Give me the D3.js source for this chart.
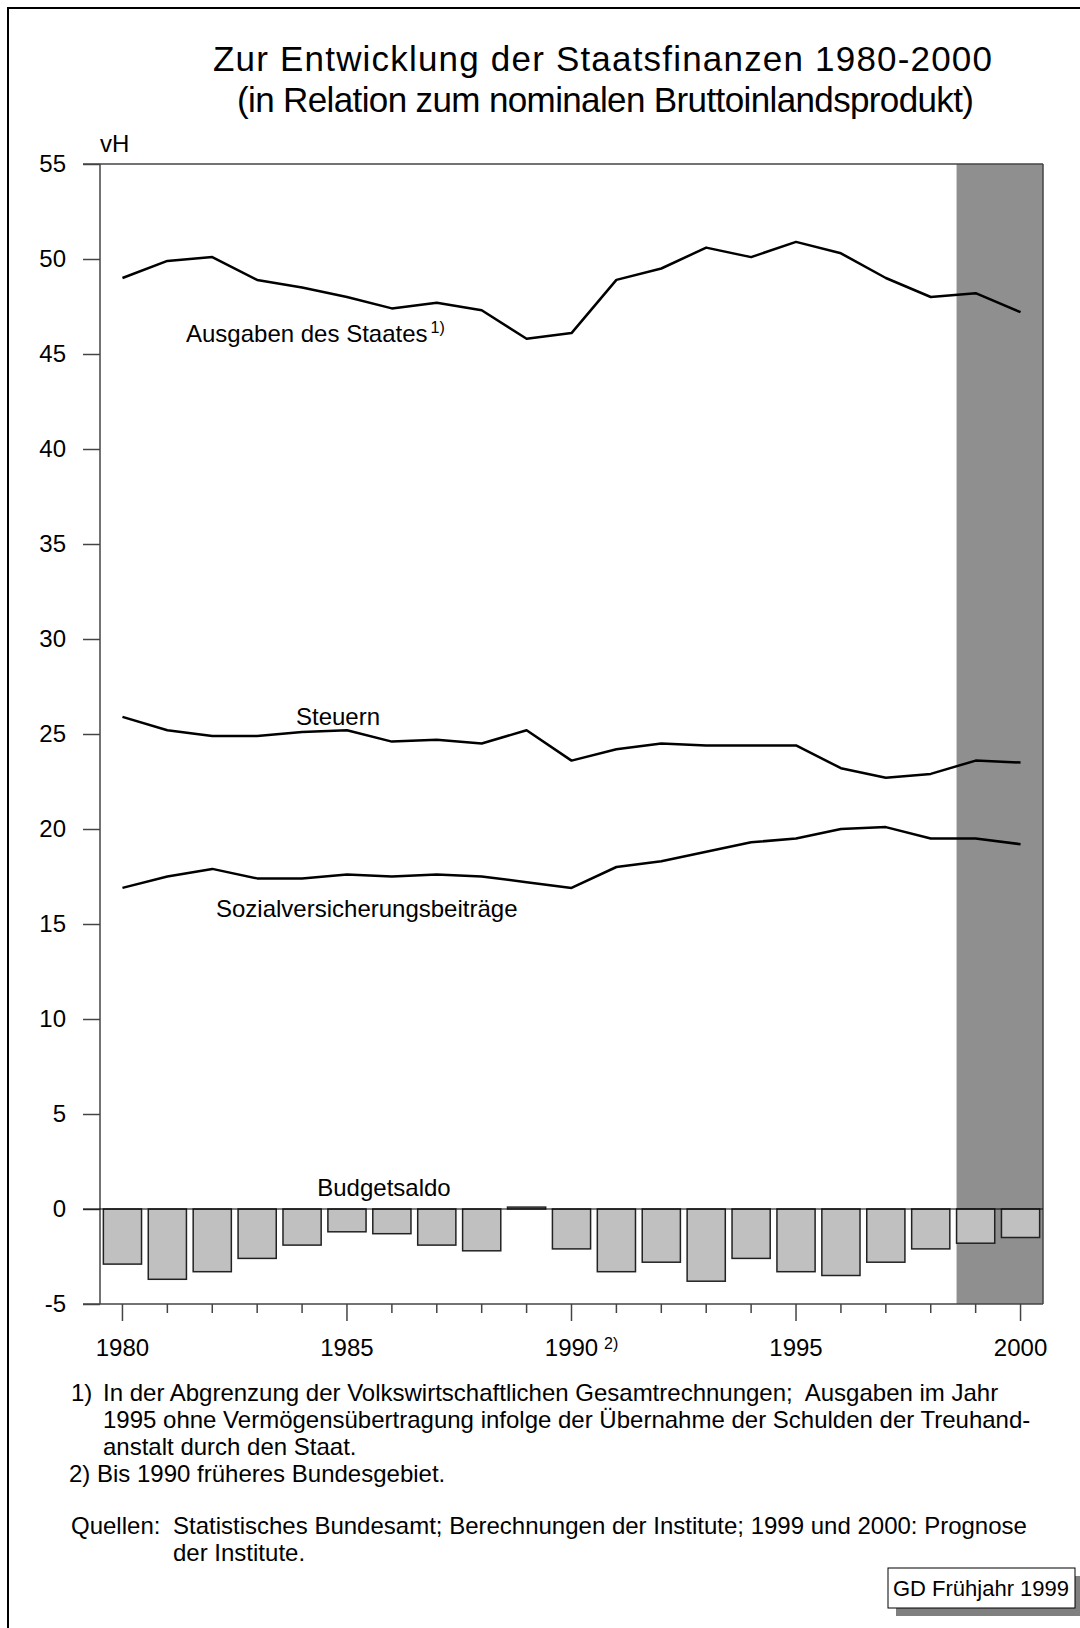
<!DOCTYPE html>
<html>
<head>
<meta charset="utf-8">
<script src="https://cdn.jsdelivr.net/npm/d3@7"></script>
<style>
  body { margin: 0; background: #fff; }
  text { font-family: "Liberation Sans", Arial, sans-serif; fill: #000; }
</style>
</head>
<body>
<div id="chart"></div>
<script>
    // Data
    const years = d3.range(1980, 2001);
    const ausgaben = [49.0, 49.9, 50.1, 48.9, 48.5, 48.0, 47.4, 47.7, 47.3, 45.8, 46.1,
      48.9, 49.5, 50.6, 50.1, 50.9, 50.3, 49.0, 48.0, 48.2, 47.2];
    const steuern = [25.9, 25.2, 24.9, 24.9, 25.1, 25.2, 24.6, 24.7, 24.5, 25.2, 23.6,
      24.2, 24.5, 24.4, 24.4, 24.4, 23.2, 22.7, 22.9, 23.6, 23.5];
    const sozial = [16.9, 17.5, 17.9, 17.4, 17.4, 17.6, 17.5, 17.6, 17.5, 17.2, 16.9,
      18.0, 18.3, 18.8, 19.3, 19.5, 20.0, 20.1, 19.5, 19.5, 19.2];
    const saldo = [-2.9, -3.7, -3.3, -2.6, -1.9, -1.2, -1.3, -1.9, -2.2, 0.1, -2.1,
      -3.3, -2.8, -3.8, -2.6, -3.3, -3.5, -2.8, -2.1, -1.8, -1.5];
    const yTicks = [-5, 0, 5, 10, 15, 20, 25, 30, 35, 40, 45, 50, 55];
    const xLabels = [1980, 1985, 1990, 1995, 2000];
    const prognoseStart = 1999;

    // The svg
    const width = 1080, height = 1628;
    const svg = d3.select("#chart").append("svg")
      .attr("width", width)
      .attr("height", height);

    svg.append("rect").attr("width", width).attr("height", height).attr("fill", "#fff");

    // page frame (top and left visible)
    svg.append("path")
      .attr("d", "M8,1628 V8 H1080")
      .attr("fill", "none")
      .attr("stroke", "#000")
      .attr("stroke-width", 2);

    // Title
    svg.append("text")
      .attr("x", 213).attr("y", 71)
      .attr("textLength", 779)
      .style("font-size", "35px")
      .text("Zur Entwicklung der Staatsfinanzen 1980-2000");
    svg.append("text")
      .attr("x", 237).attr("y", 112)
      .attr("textLength", 737)
      .style("font-size", "35px")
      .text("(in Relation zum nominalen Bruttoinlandsprodukt)");

    // Scales
    const plotLeft = 100, plotRight = 1043, plotTop = 164, plotBottom = 1304;
    const x = d3.scaleBand()
      .domain(years)
      .range([plotLeft, plotRight])
      .paddingInner(0.15)
      .paddingOuter(0.075);
    const cx = d => x(d) + x.bandwidth() / 2;
    const y = d3.scaleLinear().domain([-5, 55]).range([plotBottom, plotTop]);

    // Prognose shading
    svg.append("rect")
      .attr("x", x(prognoseStart))
      .attr("y", plotTop)
      .attr("width", plotRight - x(prognoseStart))
      .attr("height", plotBottom - plotTop)
      .attr("fill", "#8f8f8f");

    // Y axis
    const yAxis = svg.append("g")
      .attr("transform", `translate(${plotLeft},0)`)
      .call(d3.axisLeft(y).tickValues(yTicks).tickSize(17).tickPadding(17).tickFormat(d => d < 0 ? "-" + (-d) : d));
    yAxis.select(".domain").remove();
    yAxis.selectAll("line").attr("stroke", "#444").attr("stroke-width", 1.5);
    yAxis.selectAll("text")
      .style("font-size", "24px")
      .style("font-family", "'Liberation Sans', Arial, sans-serif");

    svg.append("text")
      .attr("x", 100).attr("y", 152)
      .style("font-size", "24px")
      .text("vH");

    // X axis ticks
    svg.append("g")
      .selectAll("line")
      .data(years)
      .join("line")
      .attr("x1", cx).attr("x2", cx)
      .attr("y1", plotBottom)
      .attr("y2", d => plotBottom + (d % 5 === 0 ? 17 : 9))
      .attr("stroke", "#444")
      .attr("stroke-width", 1.5);

    svg.append("g")
      .selectAll("text")
      .data(xLabels)
      .join("text")
      .attr("x", cx)
      .attr("y", 1356)
      .attr("text-anchor", "middle")
      .style("font-size", "24px")
      .text(d => d);

    svg.append("text")
      .attr("x", 604).attr("y", 1349)
      .style("font-size", "16px")
      .text("2)");

    // Bars (Budgetsaldo)
    svg.append("g")
      .selectAll("rect")
      .data(years)
      .join("rect")
      .attr("x", d => x(d))
      .attr("width", x.bandwidth())
      .attr("y", (d, i) => y(Math.max(0, saldo[i])))
      .attr("height", (d, i) => Math.abs(y(saldo[i]) - y(0)))
      .attr("fill", "#c0c0c0")
      .attr("stroke", "#222")
      .attr("stroke-width", 1.5);

    // Frame lines
    const frame = svg.append("g").attr("stroke", "#444").attr("stroke-width", 1.5);
    frame.append("line").attr("x1", 83).attr("x2", plotRight).attr("y1", plotTop).attr("y2", plotTop);
    frame.append("line").attr("x1", plotLeft).attr("x2", plotLeft).attr("y1", plotTop).attr("y2", plotBottom);
    frame.append("line").attr("x1", plotRight).attr("x2", plotRight).attr("y1", plotTop).attr("y2", plotBottom);
    frame.append("line").attr("x1", 83).attr("x2", plotRight).attr("y1", plotBottom).attr("y2", plotBottom);
    svg.append("line")
      .attr("x1", 83).attr("x2", plotRight)
      .attr("y1", y(0)).attr("y2", y(0))
      .attr("stroke", "#000").attr("stroke-width", 1.2);

    // Lines
    const line = d3.line().x(d => cx(d[0])).y(d => y(d[1]));
    [ausgaben, steuern, sozial].forEach(series => {
      svg.append("path")
        .datum(years.map((yr, i) => [yr, series[i]]))
        .attr("d", line)
        .attr("fill", "none")
        .attr("stroke", "#000")
        .attr("stroke-width", 2.5)
        .attr("stroke-linejoin", "round");
    });

    // Series labels
    const ausg = svg.append("text").attr("x", 186).attr("y", 342).style("font-size", "24px");
    ausg.append("tspan").text("Ausgaben des Staates");
    ausg.append("tspan").attr("dx", 3).attr("dy", -9).style("font-size", "16px").text("1)");
    svg.append("text").attr("x", 296).attr("y", 725).style("font-size", "24px").text("Steuern");
    svg.append("text").attr("x", 216).attr("y", 917).style("font-size", "24px").text("Sozialversicherungsbeiträge");
    svg.append("text").attr("x", 384).attr("y", 1196).attr("text-anchor", "middle")
      .style("font-size", "24px").text("Budgetsaldo");

    // Footnotes
    const notes = [
      [71, 1401, "1)"],
      [103, 1401, "In der Abgrenzung der Volkswirtschaftlichen Gesamtrechnungen;  Ausgaben im Jahr"],
      [103, 1428, "1995 ohne Vermögensübertragung infolge der Übernahme der Schulden der Treuhand-"],
      [103, 1455, "anstalt durch den Staat."],
      [69, 1482, "2) Bis 1990 früheres Bundesgebiet."],
      [71, 1534, "Quellen:"],
      [173, 1534, "Statistisches Bundesamt; Berechnungen der Institute; 1999 und 2000: Prognose"],
      [173, 1561, "der Institute."]
    ];
    svg.append("g")
      .selectAll("text")
      .data(notes)
      .join("text")
      .attr("x", d => d[0])
      .attr("y", d => d[1])
      .style("font-size", "24px")
      .style("white-space", "pre")
      .text(d => d[2]);

    // Stamp box
    svg.append("rect")
      .attr("x", 896).attr("y", 1576).attr("width", 187).attr("height", 40)
      .attr("fill", "#808080");
    svg.append("rect")
      .attr("x", 888).attr("y", 1568).attr("width", 187).attr("height", 40)
      .attr("fill", "#fff").attr("stroke", "#000").attr("stroke-width", 1);
    svg.append("text")
      .attr("x", 981).attr("y", 1596)
      .attr("text-anchor", "middle")
      .style("font-size", "22px")
      .text("GD Frühjahr 1999");
</script>
</body>
</html>
